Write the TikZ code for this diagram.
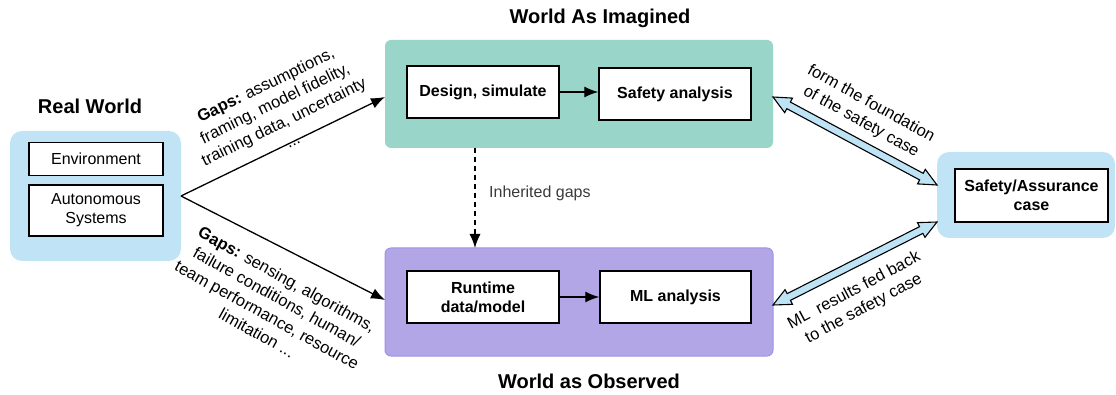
\documentclass[tikz,border=0pt]{standalone}
\usepackage{fontspec}
\setmainfont{Liberation Sans}
\usetikzlibrary{arrows.meta,shapes.arrows,calc}
\definecolor{lblue}{HTML}{C0E4F5}
\definecolor{tealc}{HTML}{9AD5CA}
\definecolor{purp}{HTML}{B2A6E6}
\definecolor{purpb}{HTML}{9E93E6}
\definecolor{fatfill}{HTML}{BEE3F5}
\definecolor{grtext}{HTML}{3A3A3A}
\tikzset{
  group/.style={rectangle, rounded corners=6pt, inner sep=0pt, outer sep=0pt},
  inbox/.style={rectangle, draw=black, line width=1.5pt, fill=white, inner sep=0pt, align=center, font=\fontsize{16}{19}\selectfont},
  boldbox/.style={inbox, font=\fontsize{16}{19}\selectfont\bfseries},
  title/.style={font=\fontsize{20}{24}\selectfont\bfseries},
  arr/.style={-{Latex[length=14pt,width=11pt]}, line width=1.3pt},
  lab/.style={align=center, font=\fontsize{16.5}{20.5}\selectfont, inner sep=0pt},
  fatarrow/.style={double arrow, draw=black, line width=1.1pt, fill=fatfill, inner xsep=0pt, inner ysep=3.2pt, double arrow head extend=4.5pt, double arrow tip angle=50, outer sep=0pt}
}
\begin{document}
\begin{tikzpicture}[x=1pt,y=-1pt]
\useasboundingbox (0,0) rectangle (1116,395);
\clip (0,0) rectangle (1116,395);
% real world
\node[title] (rwt) at (90,106) {Real World};
\node[group, rounded corners=12pt, fill=lblue, minimum width=171pt, minimum height=130pt] (lbox) at (95.5,196) {};
\node[inbox, minimum width=134pt, minimum height=33pt] (env) at (96,159) {Environment};
\node[inbox, minimum width=134pt, minimum height=51pt] (aut) at (96,210.5) {Autonomous\\Systems};
% world as imagined
\node[title] (wit) at (600,18) {World As Imagined};
\node[group, fill=tealc, minimum width=388pt, minimum height=108pt] (teal) at (579,94) {};
\node[boldbox, minimum width=152pt, minimum height=52pt] (des) at (483,92) {Design, simulate};
\node[boldbox, minimum width=152pt, minimum height=52pt] (saf) at (675,94) {Safety analysis};
% world as observed
\node[title] (wot) at (589,381) {World as Observed};
\node[group, fill=purp, draw=purpb, line width=1pt, minimum width=388pt, minimum height=108pt] (purple) at (579,302) {};
\node[boldbox, minimum width=152pt, minimum height=52pt] (run) at (483,297) {Runtime\\data/model};
\node[boldbox, minimum width=151pt, minimum height=52pt] (ml) at (675.5,297) {ML analysis};
% safety case
\node[group, rounded corners=12pt, fill=lblue, minimum width=178pt, minimum height=86pt] (rbox) at (1026,195) {};
\node[boldbox, minimum width=153pt, minimum height=53pt] (sac) at (1031.5,195.5) {Safety/Assurance\\case};
% inner arrows
\draw[arr] (des) -- (saf.west |- des);
\draw[arr] (run) -- (ml);
% left arrows
\coordinate (lo) at (lbox.east);
\draw[arr] (lo) -- ($(teal.west)+(0,3)$);
\draw[arr] (lo) -- ($(purple.west)+(0,-2)$);
% dashed
\coordinate (dx) at (475,0);
\draw[arr, dashed, dash pattern=on 5pt off 4pt] (teal.south -| dx) -- (purple.north -| dx);
\node[lab, anchor=west, text=grtext, font=\fontsize{16}{19}\selectfont] (inh) at (489,193) {Inherited gaps};
% fat double arrows
\coordinate (a1) at ($(teal.east)+(0,3)$);
\coordinate (b1) at ($(rbox.west)+(0,-10)$);
\coordinate (a2) at ($(purple.east)+(0,3)$);
\coordinate (b2) at ($(rbox.west)+(0,27)$);
\path let \p1=(a1), \p2=(b1), \n1={atan2(\y2-\y1,\x2-\x1)}, \n2={veclen(\x2-\x1,\y2-\y1)} in
  node[fatarrow, rotate=\n1, minimum height=\n2] (fa1) at ($(a1)!0.5!(b1)$) {};
\path let \p1=(a2), \p2=(b2), \n1={atan2(\y2-\y1,\x2-\x1)}, \n2={veclen(\x2-\x1,\y2-\y1)} in
  node[fatarrow, rotate=\n1, minimum height=\n2] (fa2) at ($(a2)!0.5!(b2)$) {};
% rotated labels
\node[lab, rotate=26] (g1) at (279,112) {\textbf{Gaps:} assumptions,\\framing, model fidelity,\\training data, uncertainty\\...};
\node[lab, rotate=-29] (g2) at (272,306) {\textbf{Gaps:} sensing, algorithms,\\failure conditions, human/\\team performance, resource\\limitation ...};
\node[lab, rotate=-29] (f1) at (866,113) {form the foundation\\of the safety case};
\node[lab, rotate=28] (f2) at (859,300) {ML\ \ results fed back\\to the safety case};
\end{tikzpicture}
\end{document}
